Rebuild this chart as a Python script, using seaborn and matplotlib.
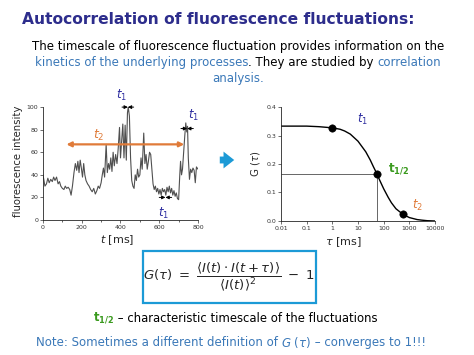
import matplotlib
matplotlib.use("Agg")
import matplotlib.pyplot as plt
import seaborn as sns
from matplotlib.patches import FancyArrowPatch, Rectangle
from matplotlib.ticker import FuncFormatter, MultipleLocator

# fluorescence trace
time_ms = [0, 5, 10, 18, 25, 32, 40, 48, 55, 62, 70, 78, 85, 92, 100, 108, 115, 122,
           130, 138, 145, 152, 160, 167, 174, 180, 186, 192, 198, 204, 210, 216, 222,
           230, 238, 246, 254, 262, 270, 278, 285, 292, 300, 306, 312, 318, 326, 332,
           338, 344, 350, 356, 362, 368, 375, 382, 388, 395, 400, 406, 412, 418, 424,
           430, 436, 440, 446, 452, 458, 464, 470, 476, 482, 488, 494, 500, 506, 512,
           520, 526, 532, 538, 544, 550, 556, 562, 568, 574, 580, 586, 592, 598, 604,
           610, 616, 622, 628, 634, 640, 646, 652, 658, 664, 670, 676, 682, 688, 694,
           700, 706, 710, 715, 720, 726, 732, 737, 742, 746, 750, 756, 762, 768, 774,
           780, 786, 792, 800]
intensity = [40, 35, 30, 32, 37, 33, 36, 34, 38, 35, 38, 32, 34, 30, 28, 27, 30, 28,
             29, 27, 22, 30, 42, 50, 44, 52, 42, 53, 46, 38, 50, 40, 35,
             32, 30, 27, 25, 28, 23, 26, 30, 28, 33, 40, 46, 38, 67, 42,
             50, 45, 55, 43, 60, 48, 58, 50, 63, 82, 55, 70, 85, 55, 84,
             53, 95, 100, 92, 55, 35, 30, 28, 40, 35, 45, 38, 40, 55, 45,
             77, 50, 58, 45, 52, 60, 58, 45, 32, 27, 30, 25, 28, 23, 27,
             22, 28, 25, 27, 22, 29, 25, 30, 24, 28, 22, 26, 21, 24, 19,
             18, 40, 52, 40, 45, 60, 75, 86, 78, 83, 55, 36, 45, 42, 46,
             44, 33, 47, 45]

# autocorrelation curve
tau_ms = [0.01, 0.1, 0.3, 1, 2, 3, 5, 10, 20, 30, 40, 55, 70, 100, 150, 200, 300,
          500, 700, 1000, 2000, 3000, 5000, 10000]
g_tau = [0.333, 0.333, 0.331, 0.327, 0.322, 0.316, 0.305, 0.280, 0.243, 0.214, 0.190,
         0.165, 0.143, 0.113, 0.083, 0.064, 0.043, 0.027, 0.019, 0.012, 0.005, 0.003,
         0.001, 0.0]
marker_tau = [1, 55, 550]
marker_g = [0.325, 0.165, 0.025]
tau_half, g_half = 55, 0.165

NAVY = "#2d2d8c"
BLUE = "#3a78b8"
T1 = "#2e2ea0"
ORANGE = "#e07b39"
GREEN = "#3a9a1e"
CYAN = "#1c9ad6"

sns.set_style("ticks")
plt.rcParams["font.family"] = ["DejaVu Sans"]

fig = plt.figure(figsize=(4.74, 3.55), dpi=100)


def colored_line(y, pieces, size, xc=0.5):
    # place differently coloured chunks of text side by side, centred at xc
    r = fig.canvas.get_renderer()
    W = fig.bbox.width
    bar = fig.text(0, 0, "||", fontsize=size)
    base = bar.get_window_extent(r).width
    bar.remove()
    widths = []
    for s, c, kw in pieces:
        t = fig.text(0, 0, "|" + s + "|", fontsize=size, **kw)
        widths.append((t.get_window_extent(r).width - base) / W)
        t.remove()
    x = xc - sum(widths) / 2
    for (s, c, kw), w in zip(pieces, widths):
        fig.text(x, y, s, fontsize=size, color=c, va="center", ha="left", **kw)
        x += w


# heading and intro text
fig.text(0.046, 0.944, "Autocorrelation of fluorescence fluctuations:",
         fontsize=11.15, fontweight="bold", color=NAVY, va="center")
colored_line(0.868, [("The timescale of fluorescence fluctuation provides information on the",
                      "black", {})], 8.45, 0.502)
colored_line(0.823, [("kinetics of the underlying processes", BLUE, {}),
                     (". They are studied by ", "black", {}),
                     ("correlation", BLUE, {})], 8.45, 0.502)
colored_line(0.780, [("analysis.", BLUE, {})], 8.45, 0.502)

# left panel: intensity trace
ax = fig.add_axes([0.0907, 0.3803, 0.327, 0.318])
sns.lineplot(x=time_ms, y=intensity, ax=ax, color="#505050", lw=0.8,
             estimator=None, sort=False)
ax.set_xlim(0, 800)
ax.set_ylim(0, 100)
ax.xaxis.set_major_locator(MultipleLocator(200))
ax.xaxis.set_minor_locator(MultipleLocator(100))
ax.yaxis.set_major_locator(MultipleLocator(20))
ax.set_xlabel("")
ax.set_ylabel("")

ax.annotate("", xy=(121, 67), xytext=(729, 67),
            arrowprops=dict(arrowstyle="<|-|>", color=ORANGE, lw=1.6,
                            mutation_scale=7, shrinkA=0, shrinkB=0), zorder=5)
ax.text(290, 75, "$t_2$", color=ORANGE, fontsize=9, ha="center", va="center")

for c, h, y in [(438, 30, 100), (744, 32, 81), (632, 32, 20)]:
    for side in (-1, 1):
        ax.annotate("", xy=(c, y), xytext=(c + side * h, y),
                    arrowprops=dict(arrowstyle="-|>", color="black", lw=0.7,
                                    mutation_scale=5, shrinkA=0, shrinkB=0),
                    annotation_clip=False)
for x, y in [(408, 110), (778, 93), (622, 6)]:
    ax.text(x, y, "$t_1$", color=T1, fontsize=8.5, ha="center", va="center",
            clip_on=False)

# right panel: autocorrelation
ax2 = fig.add_axes([0.5928, 0.3775, 0.325, 0.321])
sns.lineplot(x=tau_ms, y=g_tau, ax=ax2, color="black", lw=1.0,
             estimator=None, sort=False)
ax2.hlines(g_half, 0.01, tau_half, color="#666666", lw=0.7)
ax2.vlines(tau_half, 0, g_half, color="#666666", lw=0.7)
sns.scatterplot(x=marker_tau, y=marker_g, ax=ax2, color="black", s=28,
                edgecolor="black", zorder=5)
ax2.set_xscale("log")
ax2.set_xlim(0.01, 10000)
ax2.set_ylim(0, 0.4)
ax2.set_xticks([0.01, 0.1, 1, 10, 100, 1000, 10000])
ax2.xaxis.set_minor_locator(plt.NullLocator())
ax2.xaxis.set_major_formatter(FuncFormatter(lambda v, p: f"{v:g}"))
ax2.yaxis.set_major_locator(MultipleLocator(0.1))
ax2.yaxis.set_major_formatter(FuncFormatter(lambda v, p: f"{v:.1f}"))
ax2.set_xlabel("")
ax2.set_ylabel("")
ax2.text(15, 0.358, "$t_1$", color=T1, fontsize=8.5, ha="center", va="center")
ax2.text(370, 0.182, r"$\mathbf{t_{1/2}}$", color=GREEN, fontsize=8.5,
         ha="center", va="center")
ax2.text(2100, 0.055, "$t_2$", color=ORANGE, fontsize=8.5, ha="center", va="center")

for a in (ax, ax2):
    sns.despine(ax=a)
    for s in a.spines.values():
        s.set_linewidth(0.6)
    a.tick_params(labelsize=4.5, length=2, width=0.5, pad=1.5, colors="#333333")
    a.tick_params(which="minor", length=1.5, width=0.5)

fig.text(0.037, 0.546, "fluorescence intensity", rotation=90, fontsize=7.3,
         ha="center", va="center")
fig.text(0.247, 0.323, "$t$ [ms]", fontsize=8, ha="center", va="center")
fig.text(0.538, 0.538, r"G ($\tau$)", rotation=90, fontsize=7.3,
         ha="center", va="center")
fig.text(0.725, 0.318, r"$\tau$ [ms]", fontsize=8, ha="center", va="center")

# blue arrow between the panels
fig.add_artist(FancyArrowPatch((2.17, 1.95), (2.37, 1.95), transform=fig.dpi_scale_trans,
                               arrowstyle="simple,head_length=0.7,head_width=1.1,tail_width=0.45",
                               mutation_scale=11, color=CYAN, lw=0))

# formula box
fig.add_artist(Rectangle((0.3017, 0.1465), 0.365, 0.1465, transform=fig.transFigure,
                         fill=False, edgecolor=CYAN, lw=1.6))
fig.text(0.484, 0.220,
         r"$G(\tau)\ =\ \dfrac{\langle I(t)\cdot I(t+\tau)\rangle}{\langle I(t)\rangle^2}\ -\ 1$",
         fontsize=9.5, ha="center", va="center")

colored_line(0.104, [(r"$\mathbf{t_{1/2}}$", GREEN, {}),
                     (" \u2013 characteristic timescale of the fluctuations", "black", {})],
             8.35, 0.496)
colored_line(0.034, [("Note: Sometimes a different definition of ", BLUE, {}),
                     (r"$G$ ($\tau$)", BLUE, {}),
                     (" \u2013 converges to 1!!!", BLUE, {})], 8.5, 0.487)

fig.savefig("out.png", dpi=100)
